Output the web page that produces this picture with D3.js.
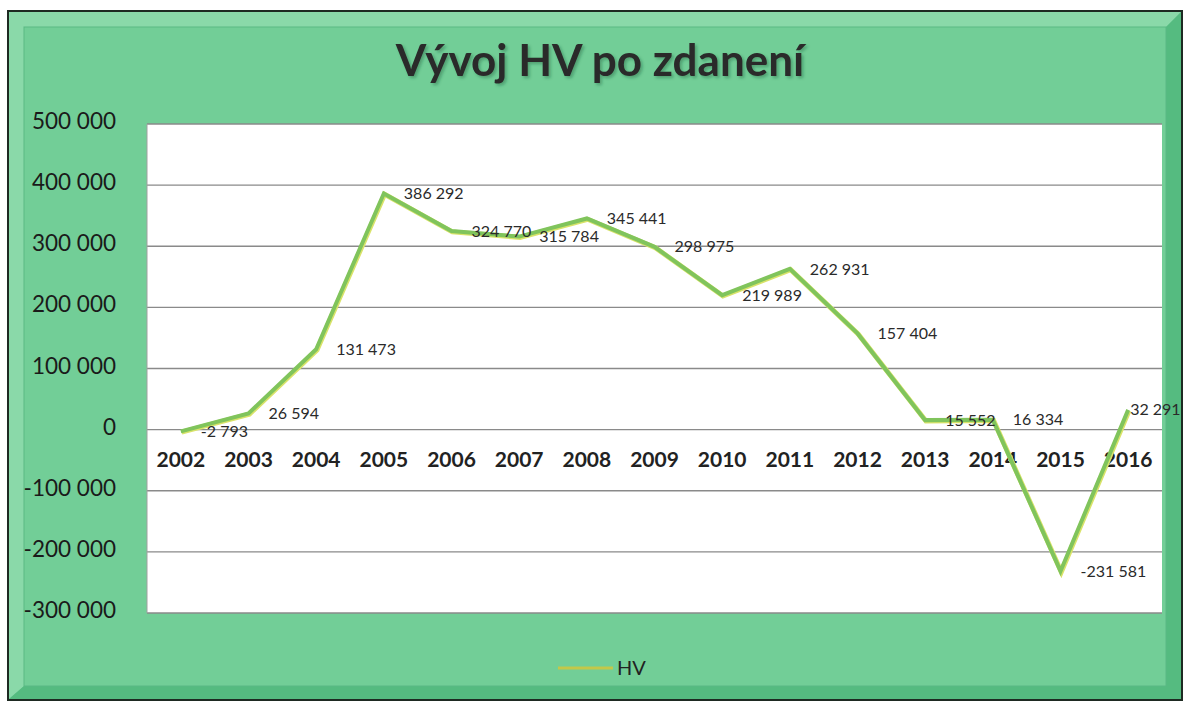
<!DOCTYPE html>
<html>
<head>
<meta charset="utf-8">
<script src="https://cdn.jsdelivr.net/npm/d3@7"></script>
<style>
  body { margin: 0; background: #ffffff; }
  svg { display: block; font-family: Lato, "Open Sans", sans-serif; }
</style>
</head>
<body>
<script>
var years = ["2002", "2003", "2004", "2005", "2006", "2007", "2008", "2009",
             "2010", "2011", "2012", "2013", "2014", "2015", "2016"];
var hv = [-2793, 26594, 131473, 386292, 324770, 315784, 345441, 298975,
          219989, 262931, 157404, 15552, 16334, -231581, 32291];
var yTicks = [500000, 400000, 300000, 200000, 100000, 0, -100000, -200000, -300000];
var seriesName = "HV";
var titleText = "Vývoj HV po zdanení";

var w = 1187;
var h = 705;
var plot = { left: 147, right: 1162, top: 124, bottom: 613 };

var svg = d3.select("body")
            .append("svg")
            .attr("width", w)
            .attr("height", h);

var defs = svg.append("defs");
var shadow = defs.append("filter").attr("id", "shadow")
                 .attr("x", "-10%").attr("y", "-20%")
                 .attr("width", "120%").attr("height", "150%");
shadow.append("feDropShadow")
      .attr("dx", 2).attr("dy", 2).attr("stdDeviation", 1.5)
      .attr("flood-color", "#1c5a35").attr("flood-opacity", 0.4);

// frame with bevel
svg.append("rect")
   .attr("x", 8).attr("y", 11)
   .attr("width", 1174).attr("height", 689)
   .attr("fill", "#6ccb92")
   .attr("stroke", "#1e2a22")
   .attr("stroke-width", 2);

svg.append("polygon")
   .attr("points", "9,12 1181,12 1166,27 24,27 24,686 9,699")
   .attr("fill", "#8ad9a9");
svg.append("polygon")
   .attr("points", "1181,12 1181,699 9,699 24,686 1166,686 1166,27")
   .attr("fill", "#55bb80");
svg.append("rect")
   .attr("x", 24).attr("y", 27)
   .attr("width", 1142).attr("height", 659)
   .attr("fill", "#72ce97")
   .attr("stroke", "#5ab984")
   .attr("stroke-width", 1);

// scales
var x = d3.scaleBand()
          .domain(years)
          .range([plot.left, plot.right]);

var y = d3.scaleLinear()
          .domain([-300000, 500000])
          .range([plot.bottom, plot.top]);

var fmt = function (v) {
  return d3.format(",")(v).replace(/,/g, " ").replace("\u2212", "-");
};

// plot area
svg.append("rect")
   .attr("x", plot.left).attr("y", plot.top)
   .attr("width", plot.right - plot.left)
   .attr("height", plot.bottom - plot.top)
   .attr("fill", "#ffffff");

svg.selectAll("gridline")
   .data(yTicks)
   .enter()
   .append("line")
   .attr("x1", plot.left)
   .attr("x2", plot.right)
   .attr("y1", d => y(d))
   .attr("y2", d => y(d))
   .attr("stroke", "#8a8a8a")
   .attr("stroke-width", 1.3);

svg.append("line")
   .attr("x1", plot.left).attr("x2", plot.left)
   .attr("y1", plot.top).attr("y2", plot.bottom)
   .attr("stroke", "#a0a0a0")
   .attr("stroke-width", 1);

// y axis
var y_axis = svg.append("g")
                .attr("transform", `translate(${plot.left - 28},0)`)
                .call(d3.axisLeft(y).tickValues(yTicks).tickSize(0).tickFormat(fmt));
y_axis.select(".domain").remove();
y_axis.selectAll("text")
      .attr("font-family", "Lato, sans-serif")
      .attr("font-size", "22.5px")
      .attr("fill", "#1a1a1a")
      .attr("dy", "0.2em");

// category labels at zero line
var x_axis = svg.append("g")
                .attr("transform", `translate(0,${y(0)})`)
                .call(d3.axisBottom(x).tickSize(0).tickPadding(22));
x_axis.select(".domain").remove();
x_axis.selectAll("text")
      .attr("font-family", "Lato, sans-serif")
      .attr("font-weight", "bold")
      .attr("font-size", "21px")
      .attr("fill", "#222222");

// line
var line = d3.line()
             .x((d, i) => x(years[i]) + x.bandwidth() / 2)
             .y(d => y(d));

svg.append("path")
   .datum(hv)
   .attr("d", line)
   .attr("fill", "none")
   .attr("stroke", "#d9e36a")
   .attr("stroke-width", 5)
   .attr("stroke-linejoin", "miter")
   .attr("transform", "translate(0.8,0.8)");

svg.append("path")
   .datum(hv)
   .attr("d", line)
   .attr("fill", "none")
   .attr("stroke", "#80c45c")
   .attr("stroke-width", 4)
   .attr("stroke-linejoin", "miter");

// data labels
svg.selectAll("datalabel")
   .data(hv)
   .enter()
   .append("text")
   .attr("x", (d, i) => x(years[i]) + x.bandwidth() / 2 + (i === hv.length - 1 ? 2 : 20))
   .attr("y", d => y(d))
   .attr("dy", "0.35em")
   .attr("font-size", "16px")
   .attr("fill", "#2a2a2a")
   .text(d => fmt(d));

// title
svg.append("text")
   .attr("x", 600)
   .attr("y", 76)
   .attr("text-anchor", "middle")
   .attr("font-weight", "bold")
   .attr("font-size", "44px")
   .attr("fill", "#2a2a2a")
   .attr("filter", "url(#shadow)")
   .text(titleText);

// legend
svg.append("line")
   .attr("x1", 558).attr("x2", 613)
   .attr("y1", 668).attr("y2", 668)
   .attr("stroke", "#c2c84a")
   .attr("stroke-width", 3);

svg.append("text")
   .attr("x", 617)
   .attr("y", 675)
   .attr("font-size", "20px")
   .attr("fill", "#222222")
   .text(seriesName);
</script>
</body>
</html>
